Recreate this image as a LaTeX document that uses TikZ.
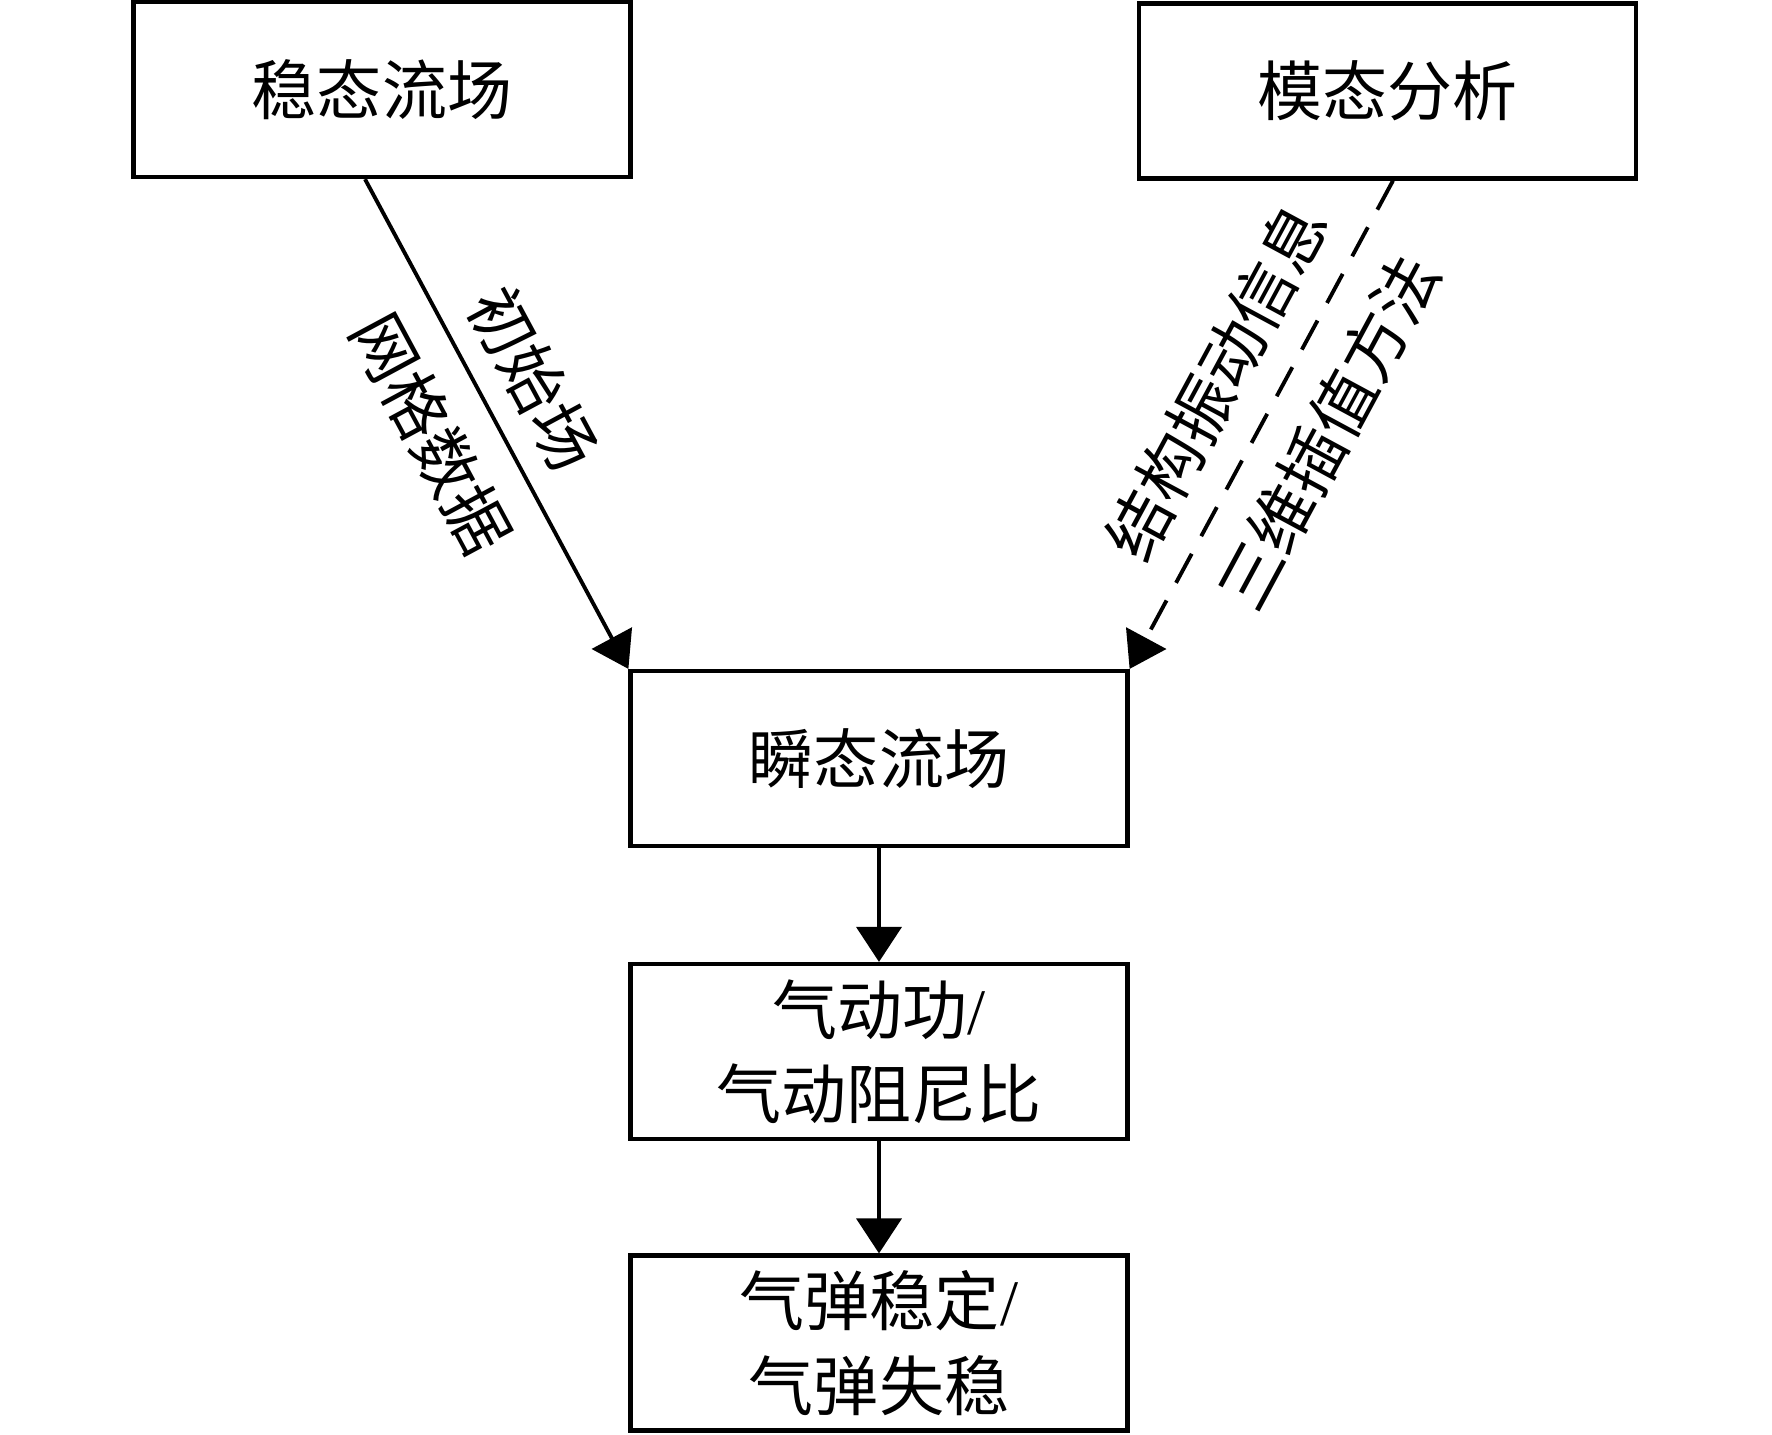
\documentclass[tikz,border=0pt]{standalone}
\usepackage{fontspec}
\setmainfont{Liberation Serif}
\newfontfamily\cjk{Noto Sans CJK SC}
\usetikzlibrary{arrows.meta}

\begin{document}
\begin{tikzpicture}[font=\cjk\fontsize{18.5}{24}\selectfont]
  \useasboundingbox (0,0) rectangle (17.72,-14.34);
            \def\bw{4.97cm}
            \def\bh{1.75cm}
            \tikzset{mybox/.style={rectangle,draw=black, line width=1.2pt, %fill=white,
                minimum width=\bw, minimum height=\bh, inner sep=0pt, align=center, text centered},
                myarr/.style={line width=1.1pt, arrows={-Triangle[length=3.5mm,width=4.5mm]}},
                mylab/.style={sloped, inner sep=0pt}}

        \node[mybox] (S) at (3.82,-0.895) {稳态流场};
        \node[mybox] (M) at (13.875,-0.91) {模态分析};
        \node[mybox] (T) at (8.79,-7.585) {瞬态流场};
        \node[mybox] (W) at (8.79,-10.515) {气动功{\rmfamily/}\\气动阻尼比};
        \node[mybox] (F) at (8.79,-13.43) {气弹稳定{\rmfamily/}\\气弹失稳};

        \draw[myarr] ([xshift=-1.7mm]S.south) to
            node[mylab, pos=0.46, above=2.2mm] {初始场}
            node[mylab, pos=0.46, below=3mm] {网格数据} (T.north west);
        \draw[myarr, dash pattern=on 3.3mm off 2mm] ([xshift=0.55mm]M.south) to
            node[mylab, pos=0.47, above=2.8mm] {结构振动信息}
            node[mylab, pos=0.455, below=3mm] {三维插值方法} (T.north east);

        \draw[myarr] (T) to (W);
        \draw[myarr] (W) to (F);

        \end{tikzpicture}
\end{document}
